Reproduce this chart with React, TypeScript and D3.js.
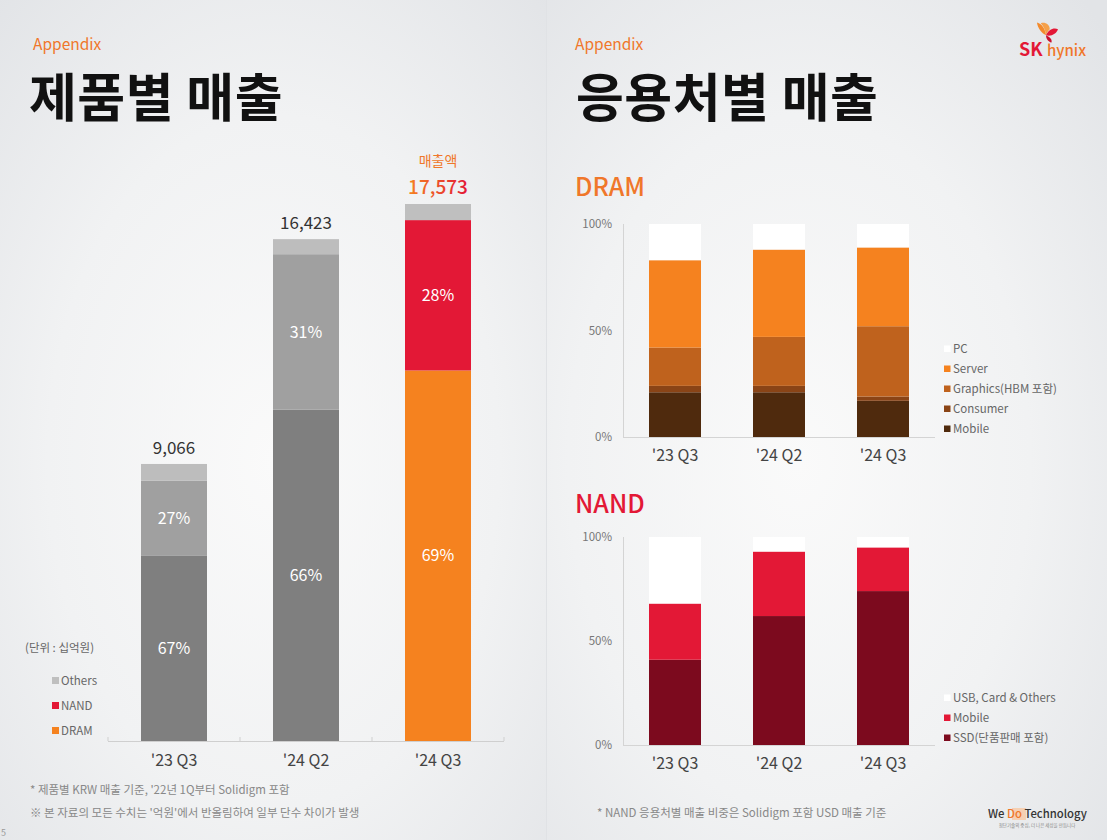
import { useMemo } from 'react';
import * as d3 from 'd3';

// 제품별 매출 (십억원)
const quarters = ["'23 Q3", "'24 Q2", "'24 Q3"];
const revenue = [9066, 16423, 17573];
const dramShare = [67, 66, 69];
const nandShare = [27, 31, 28];
const othersShare = [6, 3, 3];
const productKeys = ['DRAM', 'NAND', 'Others'];

// 응용처별 매출 비중 (%)
const dramApps = ['Mobile', 'Consumer', 'Graphics(HBM 포함)', 'Server', 'PC'];
const dramMobile = [21, 21, 17];
const dramConsumer = [3, 3, 2];
const dramGraphics = [18, 23, 33];
const dramServer = [41, 41, 37];
const dramPC = [17, 12, 11];

const nandApps = ['SSD(단품판매 포함)', 'Mobile', 'USB, Card & Others'];
const nandSSD = [41, 62, 74];
const nandMobile = [27, 31, 21];
const nandUSB = [32, 7, 5];

const pctTicks = [0, 50, 100];

const FONT = '"Noto Sans CJK KR", "Noto Sans", sans-serif';
const ORANGE = '#f5821f';
const RED = '#e31836';

const grayProduct = ['#7f7f7f', '#a0a0a0', '#bdbdbd'];
const colorProduct = [ORANGE, RED, '#bfbfbf'];
const dramColors = ['#4f2a0d', '#8a4416', '#bf621d', ORANGE, '#ffffff'];
const nandColors = ['#7c0a1e', RED, '#ffffff'];

function ProductChart() {
  const x = d3.scaleBand<string>().domain(quarters).range([108, 504]).paddingInner(0.5).paddingOuter(0.25);
  const y = d3.scaleLinear().domain([0, 17573]).range([741, 204]);

  const rows = quarters.map((q, i) => ({ q, DRAM: dramShare[i], NAND: nandShare[i], Others: othersShare[i], total: revenue[i] }));
  // shares → amounts so the segments stack on the revenue scale
  const series = d3.stack<any>().keys(productKeys).value((d, k) => (d[k] / 100) * d.total)(rows);

  const bounds = [0, 1, 2, 3].map((i) => 108 + i * x.step());

  return (
    <g fontFamily={FONT}>
      {series.map((s, si) =>
        s.map((d, i) => {
          const last = i === quarters.length - 1;
          return (
            <rect
              key={`${s.key}-${i}`}
              x={x(quarters[i])}
              width={x.bandwidth()}
              y={y(d[1])}
              height={y(d[0]) - y(d[1])}
              fill={last ? colorProduct[si] : grayProduct[si]}
            />
          );
        })
      )}
      {series.slice(0, 2).map((s) =>
        s.map((d, i) => (
          <text
            key={`l-${s.key}-${i}`}
            x={(x(quarters[i]) ?? 0) + x.bandwidth() / 2}
            y={(y(d[0]) + y(d[1])) / 2}
            dy="0.35em"
            textAnchor="middle"
            fill="#fff"
            fontSize={16}
          >
            {(rows[i] as any)[s.key]}%
          </text>
        ))
      )}
      {rows.map((r, i) => {
        const last = i === rows.length - 1;
        return (
          <text
            key={`v-${i}`}
            x={(x(r.q) ?? 0) + x.bandwidth() / 2}
            y={y(r.total) - 10}
            textAnchor="middle"
            fontSize={last ? 19 : 17}
            fill={last ? 'url(#valGrad)' : '#333'}
            fontWeight={last ? 500 : 400}
          >
            {d3.format(',')(r.total)}
          </text>
        );
      })}
      <text x={(x(quarters[2]) ?? 0) + x.bandwidth() / 2} y={y(revenue[2]) - 38} textAnchor="middle" fontSize={14} fill="#f0772a">
        매출액
      </text>
      <line x1={108} x2={504} y1={741.5} y2={741.5} stroke="#cfcfcf" />
      {bounds.map((b) => (
        <line key={b} x1={b} x2={b} y1={741} y2={737} stroke="#cfcfcf" />
      ))}
      {quarters.map((q) => (
        <text key={q} x={(x(q) ?? 0) + x.bandwidth() / 2} y={766} textAnchor="middle" fontSize={16} fill="#444">
          {q}
        </text>
      ))}
      <text x={25} y={652} fontSize={11.5} fill="#666">(단위 : 십억원)</text>
      {['Others', 'NAND', 'DRAM'].map((k, i) => (
        <g key={k} transform={`translate(52, ${681 + i * 25})`}>
          <rect x={0} y={-4} width={7} height={7} fill={colorProduct[productKeys.indexOf(k)]} />
          <text x={9} y={0} dy="0.35em" fontSize={11.5} fill="#666">{k}</text>
        </g>
      ))}
    </g>
  );
}

function ShareChart({ top, bottom, keys, values, colors, legendY }: any) {
  const x = d3.scaleBand<string>().domain(quarters).range([623, 935]).paddingInner(0.5).paddingOuter(0.25);
  const y = d3.scaleLinear().domain([0, 100]).range([bottom, top]);
  const rows = quarters.map((q, i) => {
    const r: any = { q };
    keys.forEach((k: string, ki: number) => (r[k] = values[ki][i]));
    return r;
  });
  const series = d3.stack<any>().keys(keys)(rows);

  return (
    <g fontFamily={FONT}>
      {series.map((s, si) =>
        s.map((d, i) => (
          <rect
            key={`${s.key}-${i}`}
            x={x(quarters[i])}
            width={x.bandwidth()}
            y={y(d[1])}
            height={y(d[0]) - y(d[1])}
            fill={colors[si]}
          />
        ))
      )}
      <line x1={623.5} x2={623.5} y1={top} y2={bottom} stroke="#d4d4d4" />
      <line x1={623} x2={935} y1={bottom + 0.5} y2={bottom + 0.5} stroke="#d4d4d4" />
      {pctTicks.map((t) => (
        <text key={t} x={612} y={y(t)} dy="0.35em" textAnchor="end" fontSize={11.5} fill="#777">
          {t}%
        </text>
      ))}
      {quarters.map((q) => (
        <text key={q} x={(x(q) ?? 0) + x.bandwidth() / 2} y={bottom + 24} textAnchor="middle" fontSize={16} fill="#444">
          {q}
        </text>
      ))}
      {keys
        .slice()
        .reverse()
        .map((k: string, i: number) => (
          <g key={k} transform={`translate(944, ${legendY + i * 20})`}>
            <rect x={0} y={-3.5} width={6.5} height={6.5} fill={colors[keys.indexOf(k)]} />
            <text x={9} y={0} dy="0.35em" fontSize={11.5} fill="#666">{k}</text>
          </g>
        ))}
    </g>
  );
}

function Logo() {
  return (
    <g fontFamily={FONT}>
      {/* butterfly mark above "hynix" */}
      <g transform="translate(1034, 21) scale(0.75)">
        <path d="M4 2 C11 4 15 11 16 19 C10 16 5 10 4 2 Z" fill="#f38a2c" />
        <path d="M9 3 C15 1 21 5 21 11 C19 13 17 16 16 19 C15 12 13 7 9 3 Z" fill="#f5a04a" />
        <path d="M16 19 C19 11 27 8 32 11 C30 17 23 21 16 19 Z" fill="#e31836" />
        <path d="M16 19 C21 21 25 25 23 29 C18 27 16 23 16 19 Z" fill="#c8102e" />
      </g>
      <text x={1019} y={56} fontSize={18} fontWeight={700} fill="#e31836">SK</text>
      <text x={1047} y={56} fontSize={15} fontWeight={500} fill="#f0772a">hynix</text>
    </g>
  );
}

export default function App() {
  const W = 1107;
  const H = 840;
  const grads = useMemo(() => ['bgL', 'bgR'], []);

  return (
    <svg width={W} height={H} style={{ position: 'absolute', left: 0, top: 0 }} fontFamily={FONT}>
      <defs>
        {grads.map((id, i) => (
          <radialGradient key={id} id={id} cx={i === 0 ? '0.5' : '0.45'} cy="0.55" r="0.75">
            <stop offset="0" stopColor="#fafafa" />
            <stop offset="0.55" stopColor="#f1f2f3" />
            <stop offset="1" stopColor="#e2e4e7" />
          </radialGradient>
        ))}
        <linearGradient id="valGrad" x1="0" x2="1" y1="0" y2="0">
          <stop offset="0" stopColor="#f5821f" />
          <stop offset="1" stopColor="#e31836" />
        </linearGradient>
      </defs>
      <rect x={0} y={0} width={547} height={H} fill="url(#bgL)" />
      <rect x={547} y={0} width={W - 547} height={H} fill="url(#bgR)" />
      <line x1={546.5} x2={546.5} y1={0} y2={H} stroke="#e0e2e5" />

      <text x={33} y={50} fontSize={15.5} fill="#f0772a">Appendix</text>
      <text x={29} y={117} fontSize={52} fontWeight={700} fill="#111" letterSpacing={0.5}>제품별 매출</text>
      <text x={575} y={50} fontSize={15.5} fill="#f0772a">Appendix</text>
      <text x={576} y={117} fontSize={52} fontWeight={700} fill="#111" letterSpacing={0.5}>응용처별 매출</text>
      <Logo />

      <ProductChart />

      <text x={575} y={196} fontSize={25} fontWeight={500} fill="#f0772a">DRAM</text>
      <ShareChart
        top={224}
        bottom={437}
        keys={dramApps}
        values={[dramMobile, dramConsumer, dramGraphics, dramServer, dramPC]}
        colors={dramColors}
        legendY={349}
      />
      <text x={575} y={513} fontSize={25} fontWeight={500} fill={RED}>NAND</text>
      <ShareChart
        top={537}
        bottom={745}
        keys={nandApps}
        values={[nandSSD, nandMobile, nandUSB]}
        colors={nandColors}
        legendY={698}
      />

      <text x={30} y={794} fontSize={11.5} fill="#888">* 제품별 KRW 매출 기준, '22년 1Q부터 Solidigm 포함</text>
      <text x={30} y={817} fontSize={11.5} fill="#888">※ 본 자료의 모든 수치는 '억원'에서 반올림하여 일부 단수 차이가 발생</text>
      <text x={597} y={817} fontSize={11.5} fill="#888">* NAND 응용처별 매출 비중은 Solidigm 포함 USD 매출 기준</text>
      <text x={1} y={836} fontSize={9} fill="#999">5</text>

      <g fontFamily={FONT}>
        <rect x={1012} y={808} width={14} height={12} fill="#f7c9a4" opacity={0.8} />
        <text x={988} y={818} fontSize={11.3} fontWeight={500} fill="#333">
          We <tspan fill="#f0772a">Do</tspan> Technology
        </text>
        <text x={1037} y={827} fontSize={4.5} textAnchor="middle" fill="#888">첨단기술의 중심, 더 나은 세상을 만듭니다</text>
      </g>
    </svg>
  );
}
